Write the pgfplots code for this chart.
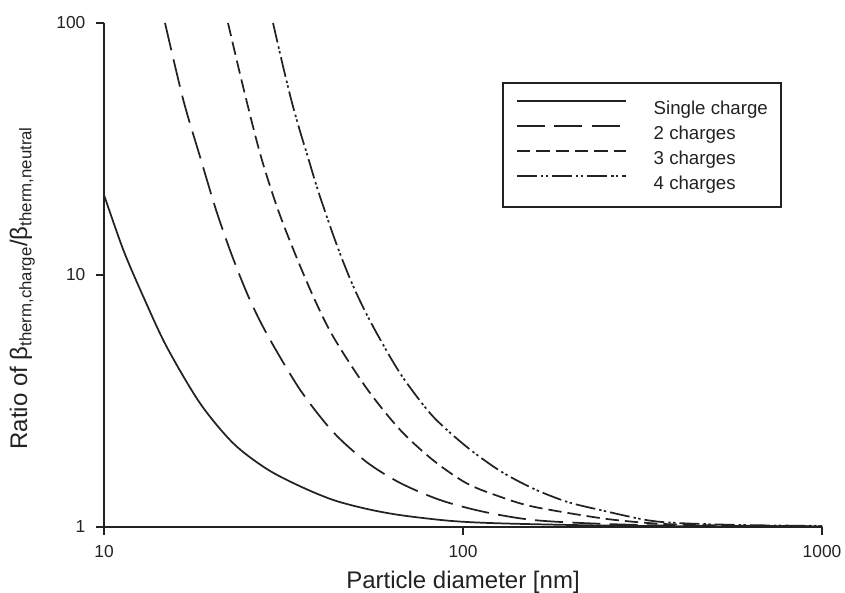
\documentclass[border=0pt]{standalone}
\usepackage{fontspec}
\setmainfont{Liberation Sans}
\usepackage{pgfplots}
\pgfplotsset{compat=1.18}
\definecolor{ink}{HTML}{222222}
\begin{document}
\begin{tikzpicture}
\begin{axis}[
  at={(0,0)}, anchor=south west,
  scale only axis, width=538.5pt, height=378pt,
  xmode=log, ymode=log,
  xmin=10, xmax=1000, ymin=1, ymax=100,
  axis x line*=bottom, axis y line*=left,
  axis line style={line width=1.3pt, color=ink},
  xtick={10,100,1000}, xticklabels={10,100,1000},
  ytick={1,10,100}, yticklabels={1,10,100},
  xminorticks=false, yminorticks=false,
  tick align=outside, major tick length=6pt,
  tick style={line width=1.3pt, color=ink},
  ticklabel style={font=\fontsize{13}{15}\selectfont, color=ink},
  xticklabel style={yshift=-4.5pt},
  yticklabel style={xshift=-4.5pt},
  every axis x label/.style={at={(axis description cs:0.5,0)}, anchor=base, yshift=-46pt, font=\fontsize{18}{20}\selectfont, color=ink},
  every axis y label/.style={at={(axis description cs:-0.107,0.474)}, anchor=base, rotate=90, font=\fontsize{18}{20}\selectfont, color=ink},
  xlabel={Particle diameter [nm]},
  ylabel={Ratio of β\textsubscript{therm,charge}/β\textsubscript{therm,neutral}},
  legend cell align=left,
  legend image code/.code={\draw[#1] (0pt,5pt) -- (82pt,5pt); \path (102pt,5pt);},
  legend style={at={(0.554,0.883)}, anchor=north west, draw=ink, line width=1.3pt,
    inner xsep=10pt, inner ysep=10pt, row sep=1.75pt,
    nodes={font=\fontsize{14}{16}\selectfont, inner sep=0pt, text height=14pt, text depth=3pt, text=ink}},
  every axis plot/.append style={line width=1.3pt, color=ink, smooth, mark=none},
]
\addplot[solid] coordinates {(10,20.8) (11.32,12.57) (12.87,8.20) (14.95,5.19) (18.51,3.10) (22.9,2.15) (28.4,1.70) (35.2,1.45) (43.5,1.28) (53.9,1.18) (66.8,1.115) (92,1.058) (126.8,1.034) (241,1.014) (500,1.006) (1000,1.003)};
\addlegendentry{Single charge}
\addplot[dash pattern=on 21pt off 7pt] coordinates {(14.79,100) (16.63,49.5) (18.51,29.5) (20.6,17.8) (22.9,11.6) (25.5,7.96) (28.7,5.69) (35.2,3.50) (43.5,2.38) (53.9,1.81) (66.8,1.496) (86.3,1.28) (113.9,1.15) (157,1.066) (241,1.03) (402,1.012) (1000,1.005)};
\addlegendentry{2 charges}
\addplot[dash pattern=on 10pt off 4.5pt] coordinates {(22.15,100) (24.4,55.9) (27.2,30.4) (30.3,18.7) (33.7,12.6) (38.3,8.2) (43.5,5.69) (53.9,3.55) (66.8,2.43) (82.6,1.84) (102.4,1.49) (126.8,1.319) (157,1.204) (241,1.085) (320,1.04) (402,1.022) (600,1.012) (1000,1.007)};
\addlegendentry{3 charges}
\addplot[dash pattern=on 15pt off 3pt on 1.8pt off 1.8pt on 1.8pt off 3pt] coordinates {(29.57,100) (31.4,69) (33.3,49) (35.1,37.5) (37.0,29.3) (39.0,22.8) (41.2,18.0) (43.5,14.4) (45.8,11.8) (48.4,9.7) (51.0,8.2) (54.0,6.95) (57.4,5.9) (63.5,4.58) (69.7,3.73) (82.6,2.74) (102.4,2.08) (126.8,1.67) (157,1.42) (194.5,1.26) (241,1.168) (325,1.065) (402,1.036) (600,1.018) (1000,1.01)};
\addlegendentry{4 charges}
\end{axis}
\pgfresetboundingbox
\path[use as bounding box] (-78pt,-48.75pt) rectangle (555.75pt,395.25pt);
\end{tikzpicture}
\end{document}
